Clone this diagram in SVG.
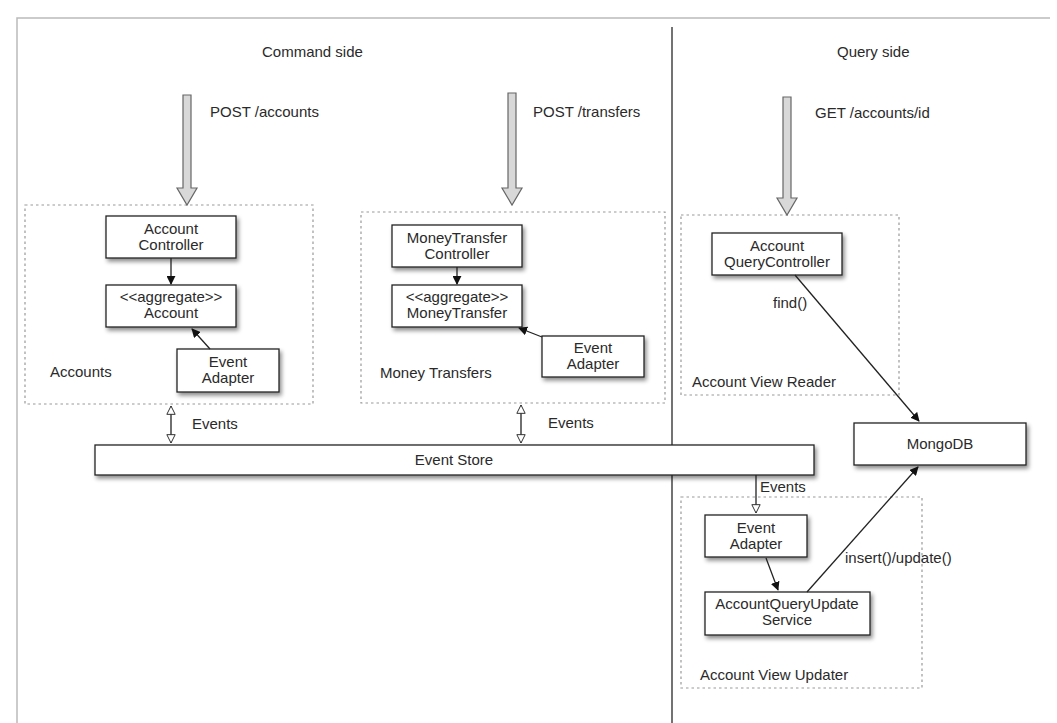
<svg xmlns="http://www.w3.org/2000/svg" width="1057" height="723" viewBox="0 0 1057 723">
<style>
text{font-family:"Liberation Sans",Arial,sans-serif;font-size:15px;fill:#2a2a2a}
.box{fill:#fff;stroke:#222;stroke-width:1.3;filter:url(#sh)}
.grp{fill:none;stroke:#999;stroke-width:1.2;stroke-dasharray:2.5 3}
.big{fill:#d8d8d8;stroke:#666;stroke-width:1.2}
.ln{fill:none;stroke:#222;stroke-width:1.3}
.c{text-anchor:middle}
</style>
<defs>
<filter id="sh" x="-10%" y="-20%" width="125%" height="160%">
<feDropShadow dx="2" dy="3" stdDeviation="2" flood-color="#000" flood-opacity="0.45"/>
</filter>
<marker id="solid" viewBox="0 0 10 10" refX="9" refY="5" markerWidth="9" markerHeight="9" markerUnits="userSpaceOnUse" orient="auto">
<path d="M0,0 L10,5 L0,10 z" fill="#111"/>
</marker>
<marker id="hollow" viewBox="0 0 12 12" refX="11" refY="6" markerWidth="10" markerHeight="10" markerUnits="userSpaceOnUse" orient="auto-start-reverse">
<path d="M1,1 L11,6 L1,11 z" fill="#fff" stroke="#333" stroke-width="1.2"/>
</marker>
</defs>
<rect width="1057" height="723" fill="#fff"/>
<g id="frame">
<path d="M17,723 V18 H1050" fill="none" stroke="#bbb" stroke-width="1.5"/>
<line x1="672" y1="27" x2="672" y2="723" stroke="#444" stroke-width="1.5"/>
<text x="262" y="57">Command side</text>
<text x="837" y="57">Query side</text>
</g>
<g id="groups">
<rect class="grp" x="25" y="205" width="288" height="199"/>
<text x="50" y="377">Accounts</text>
<rect class="grp" x="361" y="212" width="304" height="191"/>
<text x="380" y="378">Money Transfers</text>
<rect class="grp" x="681" y="215" width="218" height="180"/>
<text x="692" y="387">Account View Reader</text>
<rect class="grp" x="681" y="497" width="241" height="191"/>
<text x="700" y="680">Account View Updater</text>
</g>
<g id="requests">
<polygon class="big" points="183,95 191,95 191,188 197,188 187,205 177,188 183,188"/>
<text x="210" y="117">POST /accounts</text>
<polygon class="big" points="508,93 516,93 516,188 522,188 512,205 502,188 508,188"/>
<text x="533" y="117">POST /transfers</text>
<polygon class="big" points="783,97 791,97 791,198 797,198 787,215 777,198 783,198"/>
<text x="815" y="118">GET /accounts/id</text>
</g>
<g id="account-controller"><rect class="box" x="106" y="216" width="130" height="42"/><text class="c" x="171" y="234">Account</text><text class="c" x="171" y="250">Controller</text></g>
<g id="account-aggregate"><rect class="box" x="106" y="285" width="130" height="42"/><text class="c" x="171" y="302">&lt;&lt;aggregate&gt;&gt;</text><text class="c" x="171" y="318">Account</text></g>
<g id="account-event-adapter"><rect class="box" x="177" y="349" width="102" height="43"/><text class="c" x="228" y="367">Event</text><text class="c" x="228" y="383">Adapter</text></g>
<g id="mt-controller"><rect class="box" x="392" y="225" width="130" height="42"/><text class="c" x="457" y="243">MoneyTransfer</text><text class="c" x="457" y="259">Controller</text></g>
<g id="mt-aggregate"><rect class="box" x="392" y="285" width="130" height="42"/><text class="c" x="457" y="302">&lt;&lt;aggregate&gt;&gt;</text><text class="c" x="457" y="318">MoneyTransfer</text></g>
<g id="mt-event-adapter"><rect class="box" x="542" y="336" width="102" height="41"/><text class="c" x="593" y="353">Event</text><text class="c" x="593" y="369">Adapter</text></g>
<g id="event-store"><rect class="box" x="95" y="445" width="719" height="30"/><text class="c" x="454" y="465">Event Store</text></g>
<g id="query-controller"><rect class="box" x="712" y="233" width="130" height="42"/><text class="c" x="777" y="251">Account</text><text class="c" x="777" y="267">QueryController</text></g>
<g id="mongodb"><rect class="box" x="854" y="423" width="172" height="42"/><text class="c" x="940" y="449">MongoDB</text></g>
<g id="query-event-adapter"><rect class="box" x="705" y="515" width="102" height="42"/><text class="c" x="756" y="533">Event</text><text class="c" x="756" y="549">Adapter</text></g>
<g id="query-update-service"><rect class="box" x="705" y="592" width="165" height="43"/><text class="c" x="787" y="609">AccountQueryUpdate</text><text class="c" x="787" y="625">Service</text></g>
<g id="connectors">
<line class="ln" x1="171" y1="258" x2="171" y2="284" marker-end="url(#solid)"/>
<line class="ln" x1="210" y1="349" x2="192" y2="329" marker-end="url(#solid)"/>
<line class="ln" x1="457" y1="267" x2="457" y2="284" marker-end="url(#solid)"/>
<line class="ln" x1="542" y1="337" x2="519" y2="328" marker-end="url(#solid)"/>
<line class="ln" x1="171" y1="406" x2="171" y2="443" marker-start="url(#hollow)" marker-end="url(#hollow)"/>
<text x="192" y="429">Events</text>
<line class="ln" x1="521" y1="405" x2="521" y2="443" marker-start="url(#hollow)" marker-end="url(#hollow)"/>
<text x="548" y="428">Events</text>
<line class="ln" x1="795" y1="275" x2="919" y2="421" marker-end="url(#solid)"/>
<text x="773" y="308">find()</text>
<line class="ln" x1="756" y1="475" x2="756" y2="513" marker-end="url(#hollow)"/>
<text x="760" y="492">Events</text>
<line class="ln" x1="766" y1="558" x2="778" y2="590" marker-end="url(#solid)"/>
<line class="ln" x1="807" y1="592" x2="918" y2="467" marker-end="url(#solid)"/>
<text x="845" y="563">insert()/update()</text>
</g>
</svg>
